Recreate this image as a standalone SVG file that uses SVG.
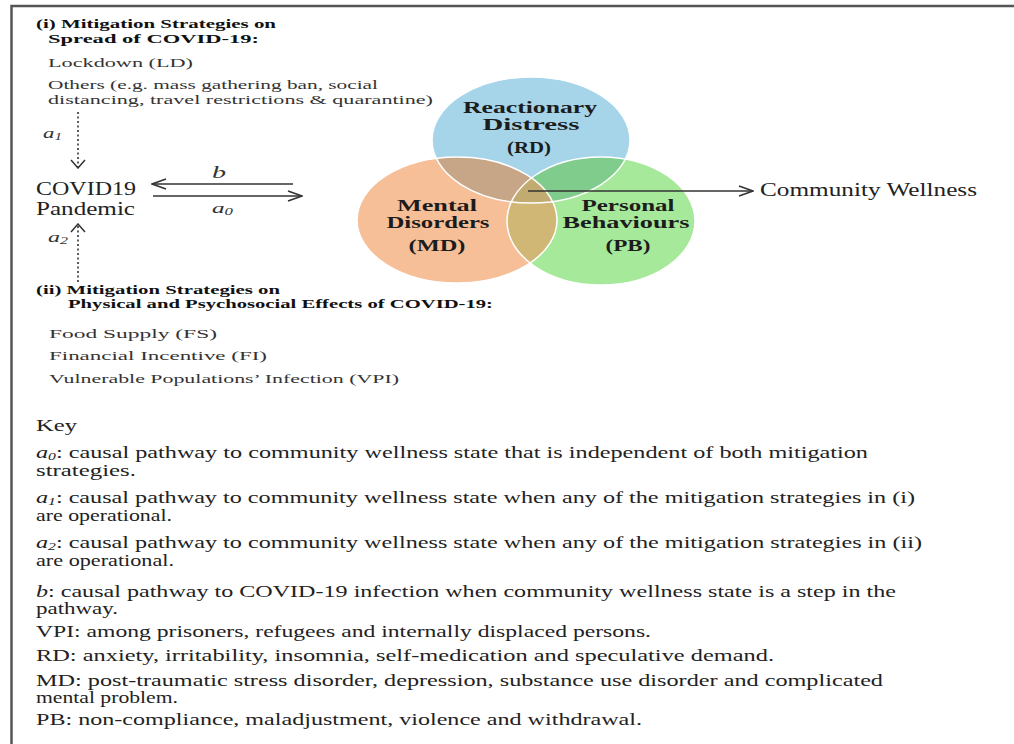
<svg xmlns="http://www.w3.org/2000/svg" width="1014" height="744" viewBox="0 0 1014 744">
<style>
text{font-family:"Liberation Serif","Times New Roman",serif}
.h{font-weight:bold;font-size:13px;fill:#111}
.t{font-size:13px;fill:#333}
.m{font-size:18px;fill:#222}
.v{font-weight:bold;font-size:17px;fill:#1c1c1c;text-anchor:middle}
.k{font-size:17px;fill:#222}
.i{font-style:italic}
.ln{stroke:#333;stroke-width:1.5;fill:none}
.dot{stroke:#333;stroke-width:1.6;stroke-dasharray:2 2.5;fill:none}
.edge{stroke:#fff;stroke-width:1.5;fill:none}
</style>
<defs>
<marker id="ah" viewBox="0 0 16 12" refX="15" refY="6" markerWidth="16" markerHeight="12" markerUnits="userSpaceOnUse" orient="auto"><path d="M1,1 L15,6 L1,11" fill="none" stroke="#333" stroke-width="1.5" stroke-dasharray="none"/></marker>
<marker id="av" viewBox="0 0 10 16" refX="9" refY="8" markerWidth="10" markerHeight="16" markerUnits="userSpaceOnUse" orient="auto"><path d="M1,1 L9,8 L1,15" fill="none" stroke="#333" stroke-width="1.5" stroke-dasharray="none"/></marker>
<ellipse id="eB" cx="531" cy="140" rx="99" ry="63"/>
<ellipse id="eO" cx="457" cy="220" rx="100" ry="63"/>
<ellipse id="eG" cx="601" cy="221" rx="94" ry="64"/>
<clipPath id="cB"><use href="#eB"/></clipPath>
<clipPath id="cO"><use href="#eO"/></clipPath>
</defs>
<rect width="1014" height="744" fill="#fff"/>
<path d="M11.5,744 V6 H1014" fill="none" stroke="#555" stroke-width="2.5"/>

<g id="mitigation-i">
<text class="h" x="36" y="28" textLength="240" lengthAdjust="spacingAndGlyphs">(i) Mitigation Strategies on</text>
<text class="h" x="48" y="43" textLength="211" lengthAdjust="spacingAndGlyphs">Spread of COVID-19:</text>
<text class="t" x="48" y="67" textLength="145" lengthAdjust="spacingAndGlyphs">Lockdown (LD)</text>
<text class="t" x="48" y="89" textLength="330" lengthAdjust="spacingAndGlyphs">Others (e.g. mass gathering ban, social</text>
<text class="t" x="48" y="104" textLength="385" lengthAdjust="spacingAndGlyphs">distancing, travel restrictions &amp; quarantine)</text>
</g>

<g id="covid19">
<text class="m" x="36" y="195" textLength="100" lengthAdjust="spacingAndGlyphs">COVID19</text>
<text class="m" x="36" y="215" textLength="99" lengthAdjust="spacingAndGlyphs">Pandemic</text>
</g>

<g id="mitigation-ii">
<text class="h" x="36" y="294" textLength="244" lengthAdjust="spacingAndGlyphs">(ii) Mitigation Strategies on</text>
<text class="h" x="68" y="308" textLength="425" lengthAdjust="spacingAndGlyphs">Physical and Psychosocial Effects of COVID-19:</text>
<text class="t" x="49" y="338" textLength="168" lengthAdjust="spacingAndGlyphs">Food Supply (FS)</text>
<text class="t" x="49" y="360" textLength="218" lengthAdjust="spacingAndGlyphs">Financial Incentive (FI)</text>
<text class="t" x="49" y="383" textLength="350" lengthAdjust="spacingAndGlyphs">Vulnerable Populations’ Infection (VPI)</text>
</g>

<g id="venn">
<g id="rd"><use href="#eB" fill="#a6d4e9"/></g>
<g id="md"><use href="#eO" fill="#f7bf98"/></g>
<g id="pb"><use href="#eG" fill="#a7e99b"/></g>
<use href="#eO" fill="#c6a686" clip-path="url(#cB)"/>
<use href="#eG" fill="#80cc8c" clip-path="url(#cB)"/>
<use href="#eG" fill="#d0b775" clip-path="url(#cO)"/>
<g clip-path="url(#cB)"><use href="#eG" fill="#c2ab70" clip-path="url(#cO)"/></g>
<use href="#eB" class="edge"/>
<use href="#eO" class="edge"/>
<use href="#eG" class="edge"/>
<text class="v" x="530" y="113" textLength="134" lengthAdjust="spacingAndGlyphs">Reactionary</text>
<text class="v" x="531" y="130" textLength="97" lengthAdjust="spacingAndGlyphs">Distress</text>
<text class="v" x="529" y="153" textLength="44" lengthAdjust="spacingAndGlyphs">(RD)</text>
<text class="v" x="437" y="211" textLength="80" lengthAdjust="spacingAndGlyphs">Mental</text>
<text class="v" x="438" y="228" textLength="103" lengthAdjust="spacingAndGlyphs">Disorders</text>
<text class="v" x="437" y="251" textLength="57" lengthAdjust="spacingAndGlyphs">(MD)</text>
<text class="v" x="628" y="211" textLength="93" lengthAdjust="spacingAndGlyphs">Personal</text>
<text class="v" x="626" y="228" textLength="127" lengthAdjust="spacingAndGlyphs">Behaviours</text>
<text class="v" x="628" y="251" textLength="45" lengthAdjust="spacingAndGlyphs">(PB)</text>
</g>

<g id="community-wellness">
<text class="m" x="760" y="196" textLength="217" lengthAdjust="spacingAndGlyphs">Community Wellness</text>
</g>

<g id="connectors">
<line class="dot" x1="78" y1="112" x2="78" y2="168" marker-end="url(#av)"/>
<line class="dot" x1="78" y1="282" x2="78" y2="224" marker-end="url(#av)"/>
<line class="ln" x1="293" y1="184" x2="152" y2="184" marker-end="url(#ah)"/>
<line class="ln" x1="153" y1="196" x2="302" y2="196" marker-end="url(#ah)"/>
<line class="ln" x1="528" y1="191" x2="753" y2="191" marker-end="url(#ah)"/>
<text class="t i" x="43" y="138" style="font-size:15px" textLength="19" lengthAdjust="spacingAndGlyphs">a<tspan font-size="10" dy="2">1</tspan></text>
<text class="t i" x="48" y="242" style="font-size:15px" textLength="20" lengthAdjust="spacingAndGlyphs">a<tspan font-size="10" dy="2">2</tspan></text>
<text class="t i" x="212" y="178" style="font-size:16px" textLength="14" lengthAdjust="spacingAndGlyphs">b</text>
<text class="t i" x="212" y="213" style="font-size:15px" textLength="21" lengthAdjust="spacingAndGlyphs">a<tspan font-size="10" dy="2">0</tspan></text>
</g>

<g id="key">
<text class="k" x="36" y="431" textLength="41" lengthAdjust="spacingAndGlyphs">Key</text>
<text class="k" x="36" y="458" textLength="832" lengthAdjust="spacingAndGlyphs"><tspan class="i">a</tspan><tspan class="i" font-size="11" dy="2">0</tspan><tspan dy="-2">: causal pathway to community wellness state that is independent of both mitigation</tspan></text>
<text class="k" x="36" y="476" textLength="100" lengthAdjust="spacingAndGlyphs">strategies.</text>
<text class="k" x="36" y="503" textLength="879" lengthAdjust="spacingAndGlyphs"><tspan class="i">a</tspan><tspan class="i" font-size="11" dy="2">1</tspan><tspan dy="-2">: causal pathway to community wellness state when any of the mitigation strategies in (i)</tspan></text>
<text class="k" x="36" y="521" textLength="136" lengthAdjust="spacingAndGlyphs">are operational.</text>
<text class="k" x="36" y="548" textLength="886" lengthAdjust="spacingAndGlyphs"><tspan class="i">a</tspan><tspan class="i" font-size="11" dy="2">2</tspan><tspan dy="-2">: causal pathway to community wellness state when any of the mitigation strategies in (ii)</tspan></text>
<text class="k" x="36" y="566" textLength="138" lengthAdjust="spacingAndGlyphs">are operational.</text>
<text class="k" x="36" y="597" textLength="860" lengthAdjust="spacingAndGlyphs"><tspan class="i">b</tspan>: causal pathway to COVID-19 infection when community wellness state is a step in the</text>
<text class="k" x="36" y="614" textLength="82" lengthAdjust="spacingAndGlyphs">pathway.</text>
<text class="k" x="36" y="637" textLength="615" lengthAdjust="spacingAndGlyphs">VPI: among prisoners, refugees and internally displaced persons.</text>
<text class="k" x="36" y="661" textLength="738" lengthAdjust="spacingAndGlyphs">RD: anxiety, irritability, insomnia, self-medication and speculative demand.</text>
<text class="k" x="36" y="686" textLength="847" lengthAdjust="spacingAndGlyphs">MD: post-traumatic stress disorder, depression, substance use disorder and complicated</text>
<text class="k" x="36" y="703" textLength="142" lengthAdjust="spacingAndGlyphs">mental problem.</text>
<text class="k" x="36" y="725" textLength="606" lengthAdjust="spacingAndGlyphs">PB: non-compliance, maladjustment, violence and withdrawal.</text>
</g>
</svg>
